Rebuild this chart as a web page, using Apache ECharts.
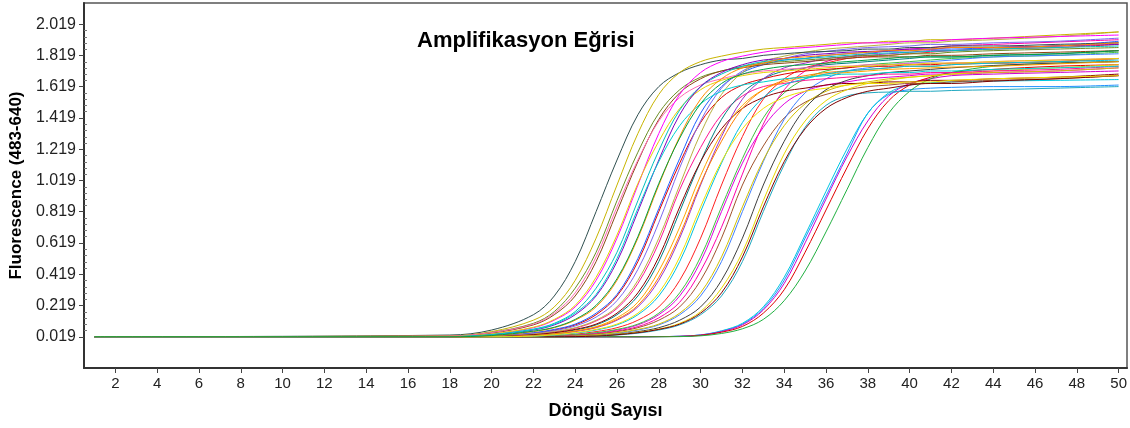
<!DOCTYPE html>
<html>
<head>
<meta charset="utf-8">
<script src="https://cdn.jsdelivr.net/npm/echarts@6/dist/echarts.min.js"></script>
<style>
  html, body { margin: 0; padding: 0; background: #fff; }
  #chart { width: 1130px; height: 428px; }
</style>
</head>
<body>
<div id="chart"></div>
<script>
const cycles = [1, 18, 20, 22, 23, 24, 25, 26, 27, 28, 29, 30, 31, 32, 33, 34, 35, 36, 37, 38, 39, 40, 41, 42, 44, 47, 50];

// earliest rising curves (Ct ~25-27.5)
const earlyCurves = [
  [0.019, 0.03, 0.062, 0.16, 0.28, 0.5, 0.82, 1.15, 1.44, 1.62, 1.71, 1.76, 1.79, 1.80, 1.82, 1.83, 1.84, 1.845, 1.85, 1.86, 1.86, 1.87, 1.87, 1.88, 1.88, 1.89, 1.90],
  [0.019, 0.025, 0.052, 0.125, 0.21, 0.38, 0.65, 0.99, 1.32, 1.57, 1.71, 1.78, 1.815, 1.84, 1.86, 1.87, 1.88, 1.89, 1.90, 1.90, 1.91, 1.91, 1.92, 1.92, 1.93, 1.95, 1.97],
  [0.019, 0.024, 0.047, 0.105, 0.18, 0.33, 0.56, 0.89, 1.20, 1.45, 1.60, 1.68, 1.72, 1.75, 1.77, 1.78, 1.79, 1.80, 1.81, 1.82, 1.82, 1.83, 1.83, 1.84, 1.85, 1.86, 1.87],
  [0.019, 0.022, 0.042, 0.095, 0.16, 0.28, 0.5, 0.82, 1.14, 1.41, 1.58, 1.67, 1.72, 1.74, 1.76, 1.77, 1.78, 1.79, 1.80, 1.81, 1.81, 1.81, 1.82, 1.82, 1.83, 1.84, 1.85],
  [0.019, 0.024, 0.046, 0.10, 0.17, 0.30, 0.53, 0.85, 1.15, 1.40, 1.55, 1.63, 1.67, 1.70, 1.72, 1.73, 1.74, 1.75, 1.75, 1.76, 1.76, 1.77, 1.77, 1.77, 1.78, 1.79, 1.80],
  [0.019, 0.02, 0.035, 0.077, 0.125, 0.21, 0.38, 0.65, 0.99, 1.32, 1.57, 1.71, 1.78, 1.815, 1.84, 1.86, 1.87, 1.88, 1.89, 1.90, 1.90, 1.91, 1.91, 1.92, 1.93, 1.94, 1.95],
  [0.019, 0.021, 0.037, 0.08, 0.13, 0.22, 0.40, 0.67, 1.00, 1.27, 1.48, 1.60, 1.66, 1.69, 1.71, 1.72, 1.73, 1.74, 1.75, 1.75, 1.76, 1.76, 1.77, 1.77, 1.78, 1.79, 1.80],
  [0.019, 0.02, 0.033, 0.068, 0.105, 0.18, 0.33, 0.56, 0.89, 1.21, 1.47, 1.62, 1.70, 1.75, 1.78, 1.79, 1.80, 1.81, 1.82, 1.83, 1.835, 1.84, 1.845, 1.85, 1.86, 1.87, 1.88],
  [0.019, 0.019, 0.03, 0.062, 0.095, 0.16, 0.28, 0.5, 0.82, 1.15, 1.44, 1.62, 1.71, 1.76, 1.79, 1.80, 1.82, 1.83, 1.84, 1.845, 1.85, 1.86, 1.86, 1.87, 1.87, 1.88, 1.89],
  [0.019, 0.02, 0.032, 0.065, 0.10, 0.17, 0.29, 0.52, 0.84, 1.14, 1.37, 1.51, 1.59, 1.63, 1.65, 1.67, 1.68, 1.69, 1.70, 1.70, 1.71, 1.71, 1.72, 1.72, 1.73, 1.74, 1.75],
  [0.019, 0.019, 0.025, 0.052, 0.077, 0.125, 0.21, 0.38, 0.65, 0.99, 1.30, 1.54, 1.67, 1.74, 1.77, 1.80, 1.81, 1.82, 1.83, 1.84, 1.85, 1.85, 1.86, 1.87, 1.87, 1.88, 1.90],
  [0.019, 0.019, 0.027, 0.055, 0.08, 0.13, 0.22, 0.39, 0.66, 1.00, 1.29, 1.51, 1.64, 1.70, 1.73, 1.75, 1.76, 1.77, 1.78, 1.79, 1.80, 1.81, 1.81, 1.81, 1.82, 1.83, 1.85]
];
const earlyColors = ['#2f4f4f', '#c8b400', '#6b8e23', '#8b4513', '#ff69b4', '#ff00ff', '#e6d200', '#00c0c0', '#8000c0', '#00d0d0', '#ff8c00', '#00a040'];

// middle of the bundle (Ct ~28-30)
const midCurves = [
  [0.019, 0.019, 0.022, 0.042, 0.062, 0.095, 0.16, 0.28, 0.5, 0.82, 1.13, 1.39, 1.55, 1.63, 1.67, 1.70, 1.72, 1.73, 1.74, 1.75, 1.75, 1.76, 1.76, 1.77, 1.77, 1.78, 1.80],
  [0.019, 0.019, 0.024, 0.045, 0.066, 0.10, 0.17, 0.29, 0.52, 0.84, 1.16, 1.45, 1.62, 1.71, 1.76, 1.79, 1.80, 1.82, 1.83, 1.84, 1.845, 1.85, 1.86, 1.86, 1.87, 1.88, 1.91],
  [0.019, 0.019, 0.021, 0.04, 0.058, 0.088, 0.145, 0.25, 0.45, 0.75, 1.10, 1.40, 1.61, 1.72, 1.77, 1.80, 1.83, 1.845, 1.86, 1.87, 1.875, 1.88, 1.89, 1.89, 1.90, 1.91, 1.93],
  [0.019, 0.019, 0.021, 0.034, 0.05, 0.074, 0.12, 0.20, 0.36, 0.62, 0.96, 1.23, 1.44, 1.56, 1.62, 1.64, 1.66, 1.67, 1.68, 1.69, 1.70, 1.70, 1.71, 1.71, 1.72, 1.73, 1.75],
  [0.019, 0.019, 0.02, 0.036, 0.052, 0.077, 0.125, 0.21, 0.38, 0.65, 0.99, 1.32, 1.57, 1.71, 1.78, 1.815, 1.84, 1.86, 1.87, 1.88, 1.89, 1.90, 1.90, 1.91, 1.92, 1.94, 1.97],
  [0.019, 0.019, 0.019, 0.03, 0.042, 0.062, 0.095, 0.16, 0.28, 0.5, 0.82, 1.14, 1.41, 1.58, 1.67, 1.72, 1.74, 1.76, 1.77, 1.78, 1.79, 1.80, 1.81, 1.81, 1.82, 1.83, 1.85],
  [0.019, 0.019, 0.02, 0.032, 0.045, 0.066, 0.10, 0.17, 0.30, 0.53, 0.85, 1.14, 1.35, 1.48, 1.55, 1.59, 1.61, 1.63, 1.64, 1.64, 1.65, 1.65, 1.66, 1.66, 1.67, 1.68, 1.70],
  [0.019, 0.019, 0.019, 0.027, 0.038, 0.056, 0.084, 0.14, 0.24, 0.44, 0.72, 1.05, 1.32, 1.50, 1.60, 1.65, 1.68, 1.70, 1.71, 1.72, 1.73, 1.735, 1.74, 1.745, 1.75, 1.765, 1.78],
  [0.019, 0.019, 0.019, 0.025, 0.035, 0.052, 0.077, 0.125, 0.21, 0.38, 0.65, 0.99, 1.30, 1.54, 1.67, 1.74, 1.77, 1.80, 1.81, 1.82, 1.83, 1.84, 1.85, 1.85, 1.87, 1.88, 1.90],
  [0.019, 0.019, 0.019, 0.026, 0.037, 0.055, 0.08, 0.13, 0.22, 0.40, 0.67, 1.00, 1.27, 1.48, 1.60, 1.66, 1.69, 1.71, 1.72, 1.73, 1.74, 1.75, 1.75, 1.76, 1.77, 1.78, 1.80],
  [0.019, 0.019, 0.019, 0.022, 0.03, 0.042, 0.062, 0.095, 0.16, 0.28, 0.5, 0.82, 1.13, 1.39, 1.55, 1.63, 1.67, 1.70, 1.72, 1.73, 1.74, 1.75, 1.75, 1.76, 1.77, 1.78, 1.79],
  [0.019, 0.019, 0.019, 0.023, 0.032, 0.045, 0.066, 0.10, 0.17, 0.30, 0.53, 0.85, 1.14, 1.35, 1.48, 1.55, 1.59, 1.61, 1.63, 1.64, 1.64, 1.65, 1.65, 1.66, 1.67, 1.68, 1.69]
];
const midColors = ['#e00000', '#2060ff', '#7b68ee', '#ff1493', '#b8b040', '#008080', '#8b0000', '#ffa500', '#9932cc', '#ff8000', '#00c0e0', '#f0e000'];

// right edge of the main bundle (Ct ~30.5-33)
const slowCurves = [
  [0.019, 0.019, 0.019, 0.02, 0.025, 0.035, 0.052, 0.077, 0.125, 0.21, 0.38, 0.65, 0.99, 1.30, 1.54, 1.67, 1.74, 1.77, 1.80, 1.81, 1.82, 1.83, 1.84, 1.85, 1.86, 1.87, 1.89],
  [0.019, 0.019, 0.019, 0.019, 0.022, 0.03, 0.042, 0.062, 0.095, 0.16, 0.28, 0.5, 0.82, 1.13, 1.36, 1.51, 1.59, 1.63, 1.65, 1.67, 1.68, 1.69, 1.70, 1.70, 1.71, 1.72, 1.74],
  [0.019, 0.019, 0.019, 0.02, 0.024, 0.032, 0.045, 0.066, 0.10, 0.17, 0.30, 0.53, 0.85, 1.16, 1.42, 1.58, 1.67, 1.72, 1.74, 1.76, 1.77, 1.78, 1.79, 1.80, 1.81, 1.82, 1.84],
  [0.019, 0.019, 0.019, 0.019, 0.021, 0.027, 0.038, 0.056, 0.084, 0.14, 0.24, 0.44, 0.72, 1.06, 1.38, 1.60, 1.72, 1.78, 1.81, 1.83, 1.85, 1.86, 1.87, 1.88, 1.89, 1.905, 1.92],
  [0.019, 0.019, 0.019, 0.019, 0.02, 0.025, 0.035, 0.052, 0.077, 0.125, 0.21, 0.38, 0.65, 0.99, 1.24, 1.42, 1.52, 1.57, 1.60, 1.62, 1.63, 1.64, 1.64, 1.65, 1.66, 1.67, 1.69],
  [0.019, 0.019, 0.019, 0.019, 0.019, 0.022, 0.03, 0.042, 0.062, 0.095, 0.16, 0.28, 0.5, 0.82, 1.14, 1.41, 1.58, 1.67, 1.72, 1.74, 1.76, 1.77, 1.78, 1.79, 1.81, 1.82, 1.83],
  [0.019, 0.019, 0.019, 0.019, 0.02, 0.023, 0.032, 0.045, 0.066, 0.10, 0.17, 0.30, 0.53, 0.85, 1.15, 1.37, 1.51, 1.59, 1.63, 1.65, 1.67, 1.68, 1.69, 1.70, 1.71, 1.72, 1.74],
  [0.019, 0.019, 0.019, 0.019, 0.019, 0.02, 0.025, 0.035, 0.052, 0.077, 0.125, 0.21, 0.38, 0.65, 0.99, 1.27, 1.48, 1.60, 1.66, 1.69, 1.71, 1.72, 1.73, 1.74, 1.755, 1.77, 1.78],
  [0.019, 0.019, 0.019, 0.019, 0.019, 0.02, 0.024, 0.033, 0.047, 0.068, 0.105, 0.18, 0.33, 0.56, 0.89, 1.19, 1.40, 1.53, 1.60, 1.64, 1.66, 1.68, 1.69, 1.70, 1.72, 1.74, 1.76],
  [0.019, 0.019, 0.019, 0.019, 0.019, 0.019, 0.022, 0.03, 0.042, 0.062, 0.095, 0.16, 0.28, 0.5, 0.82, 1.12, 1.36, 1.50, 1.56, 1.58, 1.585, 1.59, 1.59, 1.595, 1.60, 1.61, 1.62],
  [0.019, 0.019, 0.019, 0.019, 0.019, 0.02, 0.023, 0.032, 0.045, 0.066, 0.10, 0.17, 0.30, 0.53, 0.85, 1.14, 1.35, 1.48, 1.55, 1.59, 1.61, 1.63, 1.64, 1.64, 1.655, 1.67, 1.69]
];
const slowColors = ['#ff2020', '#e000e0', '#40c040', '#ff00aa', '#a0522d', '#4080ff', '#d4c000', '#404040', '#e8d800', '#20a8c0', '#800000'];

// separate late group (Ct ~35.5-36.5)
const lateCurves = [
  [0.019, 0.019, 0.019, 0.019, 0.019, 0.019, 0.019, 0.019, 0.019, 0.02, 0.022, 0.03, 0.055, 0.10, 0.20, 0.38, 0.65, 0.92, 1.19, 1.45, 1.57, 1.60, 1.61, 1.615, 1.62, 1.62, 1.63],
  [0.019, 0.019, 0.019, 0.019, 0.019, 0.019, 0.019, 0.019, 0.019, 0.02, 0.022, 0.031, 0.057, 0.105, 0.21, 0.40, 0.67, 0.95, 1.22, 1.45, 1.58, 1.63, 1.645, 1.65, 1.655, 1.66, 1.665],
  [0.019, 0.019, 0.019, 0.019, 0.019, 0.019, 0.019, 0.019, 0.019, 0.02, 0.022, 0.03, 0.052, 0.095, 0.19, 0.36, 0.62, 0.90, 1.17, 1.40, 1.56, 1.64, 1.67, 1.69, 1.70, 1.71, 1.72],
  [0.019, 0.019, 0.019, 0.019, 0.019, 0.019, 0.019, 0.019, 0.019, 0.02, 0.021, 0.028, 0.048, 0.085, 0.17, 0.32, 0.56, 0.83, 1.10, 1.35, 1.53, 1.63, 1.68, 1.71, 1.73, 1.75, 1.76],
  [0.019, 0.019, 0.019, 0.019, 0.019, 0.019, 0.019, 0.019, 0.019, 0.019, 0.02, 0.025, 0.04, 0.07, 0.13, 0.25, 0.44, 0.69, 0.96, 1.23, 1.45, 1.59, 1.67, 1.71, 1.75, 1.77, 1.78]
];
const lateColors = ['#1e90ff', '#00c8e0', '#d000d0', '#e00000', '#20b040'];

const yTicks = [0.019, 0.219, 0.419, 0.619, 0.819, 1.019, 1.219, 1.419, 1.619, 1.819, 2.019];
const xTicks = [2, 4, 6, 8, 10, 12, 14, 16, 18, 20, 22, 24, 26, 28, 30, 32, 34, 36, 38, 40, 42, 44, 46, 48, 50];

// small ticks between the labelled ones (4 per gap)
let yMinor = [];
for (let i = 0; i < yTicks.length - 1; i++) {
    for (let k = 1; k < 5; k++) {
        yMinor.push(+(yTicks[i] + k * (yTicks[i + 1] - yTicks[i]) / 5).toFixed(4));
    }
}

const font = 'Liberation Sans, Arial, sans-serif';

function makeSeries(curves, colors) {
    return curves.map(function (vals, i) {
        return {
            type: 'line',
            data: cycles.map(function (c, j) { return [c, vals[j]]; }),
            showSymbol: false,
            smooth: 0.35,
            lineStyle: { width: 1, color: colors[i % colors.length] },
            silent: true
        };
    });
}

let series = []
    .concat(makeSeries(lateCurves, lateColors))
    .concat(makeSeries(slowCurves, slowColors))
    .concat(makeSeries(midCurves, midColors))
    .concat(makeSeries(earlyCurves, earlyColors));

let option = {
    animation: false,
    backgroundColor: '#fff',
    title: {
        text: 'Amplifikasyon Eğrisi',
        left: 417,
        top: 30,
        padding: 0,
        textStyle: { fontFamily: font, fontSize: 22, fontWeight: 'bold', color: '#000' }
    },
    grid: {
        left: 84, right: 3, top: 3, bottom: 60,
        show: true,
        borderColor: '#555',
        borderWidth: 1.5
    },
    xAxis: {
        type: 'value',
        min: 0.5,
        max: 50.4,
        name: 'Döngü Sayısı',
        nameLocation: 'middle',
        nameGap: 34,
        nameTextStyle: { fontFamily: font, fontSize: 18, fontWeight: 'bold', color: '#000' },
        axisLine: { show: true, onZero: false, lineStyle: { color: '#333', width: 2 } },
        axisTick: { show: true, customValues: xTicks, length: 5, lineStyle: { color: '#444' } },
        axisLabel: { customValues: xTicks, fontFamily: font, fontSize: 15, color: '#222', margin: 8 },
        splitLine: { show: false }
    },
    yAxis: [{
        type: 'value',
        min: -0.181,
        max: 2.155,
        name: 'Fluorescence (483-640)',
        nameLocation: 'middle',
        nameGap: 56,
        nameTextStyle: { fontFamily: font, fontSize: 17, fontWeight: 'bold', color: '#000' },
        axisLine: { show: true, onZero: false, lineStyle: { color: '#333', width: 2 } },
        axisTick: { show: true, customValues: yTicks, length: 5, lineStyle: { color: '#444' } },
        axisLabel: {
            customValues: yTicks,
            formatter: function (v) { return v.toFixed(3); },
            fontFamily: font, fontSize: 16, color: '#222', margin: 8
        },
        splitLine: { show: false }
    }, {
        type: 'value',
        position: 'left',
        min: -0.181,
        max: 2.155,
        axisLine: { show: false },
        axisTick: { show: true, inside: true, customValues: yMinor, length: 3, lineStyle: { color: '#777' } },
        axisLabel: { show: false },
        splitLine: { show: false }
    }],
    series: series
};

let myChart = echarts.init(document.getElementById('chart'));
myChart.setOption(option);
</script>
</body>
</html>
